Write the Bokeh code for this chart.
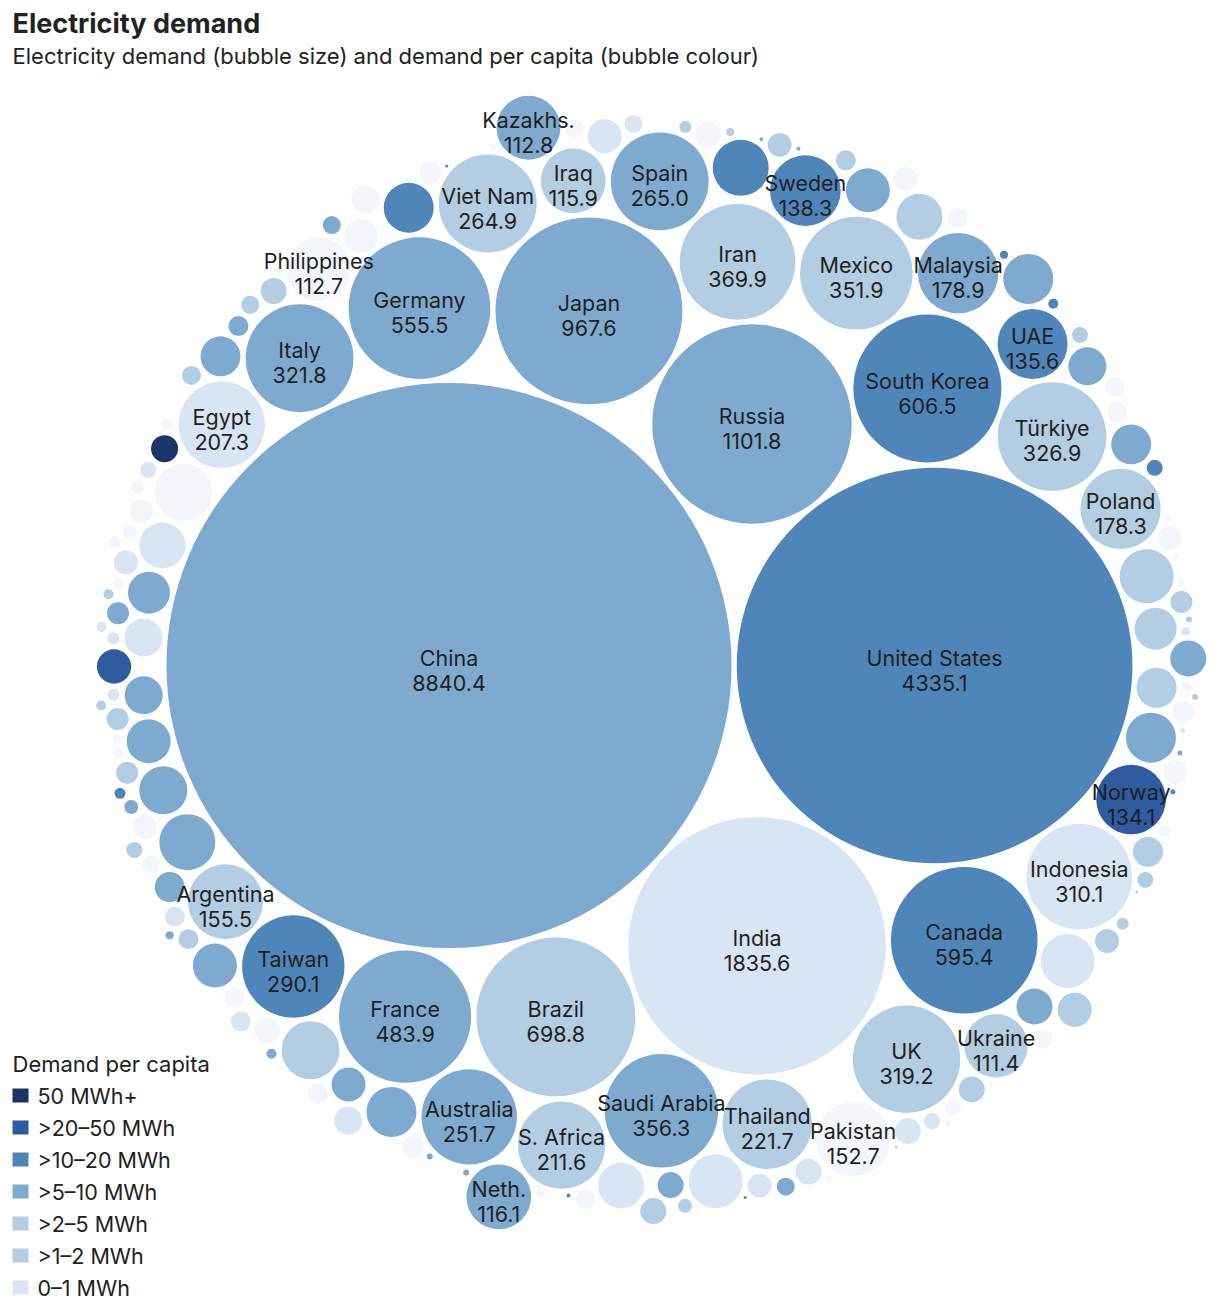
import math
from bokeh.plotting import figure
from bokeh.models import Range1d, ColumnDataSource
from bokeh.core.properties import value
from bokeh.embed import file_html
from bokeh.resources import INLINE

# ---------------- data ----------------
# labelled countries: name, electricity demand (TWh), per-capita band
names = ["China", "United States", "India", "Russia", "Japan", "Brazil", "South Korea",
         "Canada", "Germany", "France", "Iran", "Saudi Arabia", "Mexico", "Türkiye",
         "Italy", "UK", "Indonesia", "Taiwan", "Spain", "Viet Nam", "Australia",
         "Thailand", "S. Africa", "Egypt", "Malaysia", "Poland", "Argentina",
         "Pakistan", "Sweden", "UAE", "Norway", "Neth.", "Iraq", "Kazakhs.",
         "Philippines", "Ukraine"]
demand = [8840.4, 4335.1, 1835.6, 1101.8, 967.6, 698.8, 606.5,
          595.4, 555.5, 483.9, 369.9, 356.3, 351.9, 326.9,
          321.8, 319.2, 310.1, 290.1, 265.0, 264.9, 251.7,
          221.7, 211.6, 207.3, 178.9, 178.3, 155.5,
          152.7, 138.3, 135.6, 134.1, 116.1, 115.9, 112.8,
          112.7, 111.4]
band = ["5-10", "10-20", "1-2", "5-10", "5-10", "2-5", "10-20",
        "10-20", "5-10", "5-10", "2-5", "5-10", "2-5", "2-5",
        "5-10", "2-5", "1-2", "10-20", "5-10", "2-5", "5-10",
        "2-5", "2-5", "1-2", "5-10", "2-5", "2-5",
        "0-1", "10-20", "10-20", "20-50", "5-10", "2-5", "5-10",
        "0-1", "2-5"]
# the source chart's packing order differs from the displayed values for a few countries
sort_override = {"Poland": 179.0, "Neth.": 34.0}

# unlabelled (smaller) countries: demand (TWh, estimated) and per-capita band
small_demand = [3.4, 10.0, 32.5, 11.1, 5.4, 20.2, 4.0, 0.25, 18.7, 86.8,
                11.1, 53.6, 15.9, 58.6, 11.1, 2.8, 69.2, 2.8, 7.1, 40.0,
                11.1, 11.1, 0.25, 44.3, 7.1, 1.0, 15.9, 0.7, 80.7, 0.7,
                13.4, 44.3, 1.0, 4.0, 35.9, 44.3, 4.0, 1.0, 11.1, 69.2,
                0.25, 0.25, 1.0, 15.9, 1.0, 2.8, 24.9, 5.4, 0.44, 0.25,
                2.8, 15.9, 80.7, 0.44, 35.9, 32.5, 0.25, 11.1, 0.7, 18.7,
                7.1, 1.0, 7.1, 18.7, 0.44, 18.7, 1.8, 9.0, 9.0, 15.9,
                80.7, 7.1, 0.11, 18.7, 18.7, 58.6, 13.4, 0.44, 0.11, 1.8,
                1.8, 13.4, 69.2, 21.7, 32.0, 11.1, 93.1, 2.8, 18.7, 11.1,
                11.1, 1.0, 53.6, 11.1, 1.8, 9.0, 24.9, 86.8, 5.4, 15.9,
                4.0, 2.8, 63.8, 13.4, 1.0, 53.6, 13.4, 1.0, 40.0, 7.1,
                32.0, 7.1, 40.0, 1.8, 13.4, 48.8, 1.8, 2.8, 15.9, 2.8,
                58.6, 4.0, 15.9, 93.1, 4.0, 5.4, 18.7, 9.0, 48.8, 11.1,
                9.0, 4.0, 0.25, 15.9, 1.0, 32.0, 9.0, 21.7, 69.2, 13.4,
                1.0]
small_band = ["10-20", "2-5", "20-50", "0-1", "2-5", "50+", "0-1", "0-1", "0-1", "5-10",
              "0-1", "5-10", "0-1", "1-2", "5-10", "0-1", "5-10", "5-10", "10-20", "5-10",
              "0-1", "2-5", "2-5", "5-10", "2-5", "5-10", "0-1", "10-20", "1-2", "5-10",
              "2-5", "2-5", "2-5", "1-2", "5-10", "5-10", "1-2", "0-1", "0-1", "10-20",
              "10-20", "10-20", "0-1", "2-5", "2-5", "10-20", "2-5", "5-10", "5-10", "0-1",
              "1-2", "0-1", "2-5", "0-1", "5-10", "2-5", "0-1", "2-5", "1-2", "5-10",
              "2-5", "5-10", "1-2", "1-2", "5-10", "1-2", "0-1", "0-1", "0-1", "0-1",
              "1-2", "0-1", "0-1", "2-5", "2-5", "1-2", "0-1", "10-20", "0-1", "5-10",
              "1-2", "5-10", "5-10", "1-2", "5-10", "0-1", "2-5", "2-5", "0-1", "0-1",
              "0-1", "0-1", "5-10", "1-2", "10-20", "2-5", "5-10", "10-20", "0-1", "1-2",
              "0-1", "0-1", "5-10", "2-5", "0-1", "5-10", "2-5", "0-1", "1-2", "2-5",
              "0-1", "1-2", "5-10", "2-5", "0-1", "2-5", "0-1", "2-5", "2-5", "0-1",
              "2-5", "0-1", "0-1", "0-1", "2-5", "0-1", "2-5", "5-10", "5-10", "1-2",
              "5-10", "2-5", "2-5", "1-2", "0-1", "1-2", "1-2", "0-1", "5-10", "0-1",
              "0-1"]

band_colors = {"0-1": "#F3F7FC", "1-2": "#D9E5F2", "2-5": "#B3CDE3", "5-10": "#7FAAD0",
               "10-20": "#4F86BA", "20-50": "#2E5C9E", "50+": "#1B356B"}

legend_labels = ["50 MWh+", ">20–50 MWh", ">10–20 MWh", ">5–10 MWh", ">2–5 MWh", ">1–2 MWh", "0–1 MWh"]
legend_colors = ["#1B356B", "#2E5C9E", "#4F86BA", "#7FAAD0", "#B3CDE3", "#B3CDE3", "#D9E5F2"]

title_text = "Electricity demand"
subtitle_text = "Electricity demand (bubble size) and demand per capita  (bubble colour)"
legend_title = "Demand per capita"

# ---------------- layout (d3.pack style front-chain circle packing) ----------------
SCALE = 3.005      # px per sqrt(TWh)
GAP = 5.2          # px between bubbles
ANCHOR = (448.5, 665.0)   # page position of the largest bubble's centre
TEXT_DY = 8        # svg text baseline correction

all_names = names + [""] * len(small_demand)
all_vals = demand + small_demand
all_band = band + small_band
sort_key = [sort_override.get(n, v) for n, v in zip(all_names, all_vals)]
order = sorted(range(len(all_vals)), key=lambda i: -sort_key[i])

circles = [[0.0, 0.0, SCALE * math.sqrt(all_vals[i]) + GAP / 2] for i in order]


class Node:
    __slots__ = ("c", "next", "prev")

    def __init__(self, c):
        self.c = c
        self.next = None
        self.prev = None


def place(b, a, c):
    dx = b[0] - a[0]
    dy = b[1] - a[1]
    d2 = dx * dx + dy * dy
    if d2:
        a2 = (a[2] + c[2]) ** 2
        b2 = (b[2] + c[2]) ** 2
        if a2 > b2:
            x = (d2 + b2 - a2) / (2 * d2)
            y = math.sqrt(max(0.0, b2 / d2 - x * x))
            c[0] = b[0] - x * dx - y * dy
            c[1] = b[1] - x * dy + y * dx
        else:
            x = (d2 + a2 - b2) / (2 * d2)
            y = math.sqrt(max(0.0, a2 / d2 - x * x))
            c[0] = a[0] + x * dx - y * dy
            c[1] = a[1] + x * dy + y * dx
    else:
        c[0] = a[0] + c[2]
        c[1] = a[1]


def intersects(a, b):
    dr = a[2] + b[2] - 1e-6
    dx = b[0] - a[0]
    dy = b[1] - a[1]
    return dr > 0 and dr * dr > dx * dx + dy * dy


def score(node):
    a = node.c
    b = node.next.c
    ab = a[2] + b[2]
    dx = (a[0] * b[2] + b[0] * a[2]) / ab
    dy = (a[1] * b[2] + b[1] * a[2]) / ab
    return dx * dx + dy * dy


def pack_siblings(cs):
    n = len(cs)
    a = cs[0]
    a[0] = 0.0
    a[1] = 0.0
    b = cs[1]
    a[0] = -b[2]
    b[0] = a[2]
    b[1] = 0.0
    place(b, a, cs[2])
    a, b, c = Node(cs[0]), Node(cs[1]), Node(cs[2])
    a.next = c.prev = b
    b.next = a.prev = c
    c.next = b.prev = a
    i = 3
    while i < n:
        ci = cs[i]
        place(a.c, b.c, ci)
        cn = Node(ci)
        j, k = b.next, a.prev
        sj, sk = b.c[2], a.c[2]
        retry = False
        while True:
            if sj <= sk:
                if intersects(j.c, ci):
                    b = j
                    a.next = b
                    b.prev = a
                    retry = True
                    break
                sj += j.c[2]
                j = j.next
            else:
                if intersects(k.c, ci):
                    a = k
                    a.next = b
                    b.prev = a
                    retry = True
                    break
                sk += k.c[2]
                k = k.prev
            if j is k.next:
                break
        if retry:
            continue
        cn.prev = a
        cn.next = b
        a.next = cn
        b.prev = cn
        b = cn
        aa = score(a)
        c = cn
        while True:
            c = c.next
            if c is b:
                break
            ca = score(c)
            if ca < aa:
                a = c
                aa = ca
        b = a.next
        i += 1


pack_siblings(circles)

ox = ANCHOR[0] - circles[0][0]
oy = ANCHOR[1] - circles[0][1]

cx = [c[0] + ox for c in circles]
cy = [c[1] + oy for c in circles]
cr = [c[2] - GAP / 2 for c in circles]
cc = [band_colors[all_band[i]] for i in order]
cn_ = [all_names[i] for i in order]
cv = [("%.1f" % all_vals[i]) if all_names[i] else "" for i in order]

# ---------------- figure ----------------
W, H = 1210, 1300
p = figure(width=W, height=H, output_backend="svg", toolbar_location=None,
           x_range=Range1d(0, W), y_range=Range1d(H, 0),
           x_axis_location=None, y_axis_location=None, min_border=0)
p.grid.visible = False
p.outline_line_color = None
p.background_fill_color = "white"
p.border_fill_color = "white"

src = ColumnDataSource(dict(x=cx, y=cy, r=cr, color=cc))
p.circle(x="x", y="y", radius="r", fill_color="color", line_color=None, source=src)

FONT = value("Inter")
TXT = "#1f1f1f"
LBL = "21.5px"
lab_idx = [i for i in range(len(cn_)) if cn_[i]]
lab = ColumnDataSource(dict(
    x=[cx[i] for i in lab_idx],
    yn=[cy[i] - TEXT_DY for i in lab_idx],
    yv=[cy[i] + 25 - TEXT_DY for i in lab_idx],
    name=[cn_[i] for i in lab_idx],
    val=[cv[i] for i in lab_idx],
))
p.text(x="x", y="yn", text="name", source=lab, text_align="center",
       text_baseline="alphabetic", text_font=FONT, text_font_size=LBL, text_color=TXT)
p.text(x="x", y="yv", text="val", source=lab, text_align="center",
       text_baseline="alphabetic", text_font=FONT, text_font_size=LBL, text_color=TXT)

# title & subtitle
p.text(x=[12], y=[31 - TEXT_DY], text=[title_text], text_font=FONT, text_font_size="27px",
       text_font_style="bold", text_color="#222222", text_baseline="alphabetic")
p.text(x=[12], y=[63 - TEXT_DY], text=[subtitle_text], text_font=FONT, text_font_size="22px",
       text_color="#222222", text_baseline="alphabetic")

# legend
p.text(x=[12], y=[1071 - TEXT_DY], text=[legend_title], text_font=FONT, text_font_size="22px",
       text_color="#222222", text_baseline="alphabetic")
ly = [1095 + 32 * i for i in range(len(legend_labels))]
p.rect(x=[20] * len(ly), y=ly, width=16, height=14, fill_color=legend_colors, line_color=None)
p.text(x=[37] * len(ly), y=[v + 8 - TEXT_DY for v in ly], text=legend_labels, text_font=FONT,
       text_font_size="21.5px", text_color="#222222", text_baseline="alphabetic")

open("out.html", "w").write(file_html(p, INLINE))
